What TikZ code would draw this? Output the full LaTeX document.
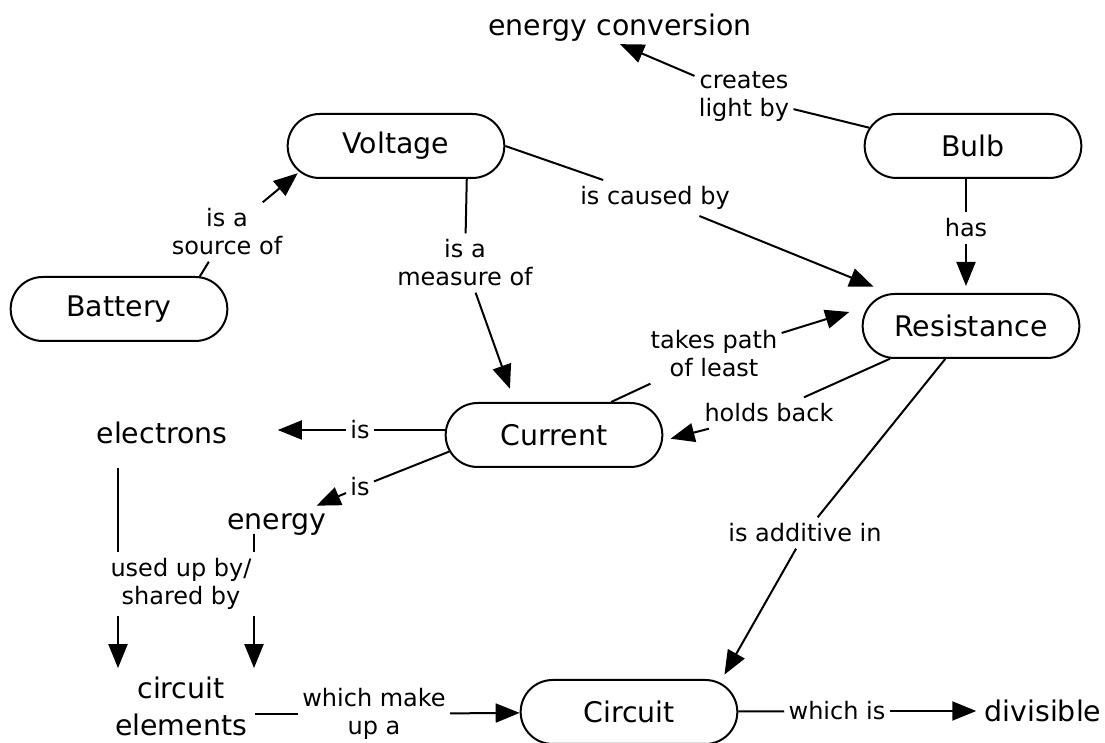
\documentclass[tikz,border=0pt]{standalone}
\usepackage{fontspec}
\setmainfont{DejaVu Sans}
\usetikzlibrary{shapes.misc,arrows.meta,positioning,calc}

\begin{document}
\begin{tikzpicture}[
            x=0.5pt, y=-0.5pt,
            concept/.style={rounded rectangle, draw, line width=1pt, minimum width=115pt, minimum height=32pt, font=\fontsize{14.2}{18.5}\selectfont},
            term/.style={align=center, inner sep=4pt, font=\fontsize{14.2}{18.5}\selectfont},
            link/.style={align=center, inner xsep=2pt, inner ysep=3pt, font=\fontsize{12}{14}\selectfont},
            line/.style={line width=1pt},
            arrow/.style={line width=1pt, -{Triangle[length=12pt, width=9.5pt]}}
        ]
            \useasboundingbox (0,0) rectangle (1105,743);

            % Nodes
            \node[concept] (voltage) at (396,146) {Voltage};
            \node[concept] (battery) at (119,309) {Battery};
            \node[concept] (bulb) at (973,146) {Bulb};
            \node[concept] (resistance) at (971,326) {Resistance};
            \node[concept] (current) at (554,435) {Current};
            \node[concept] (circuit) at (629,712) {Circuit};
            \node[term, inner sep=1pt] (conversion) at (620,28) {energy conversion};
            \node[term] (electrons) at (162,433) {electrons};
            \node[term] (energy) at (277,525) {energy};
            \node[term] (elements) at (181,706) {circuit\\elements};
            \node[term] (divisible) at (1043,711) {divisible};

            % Labels
            \node[link] (source) at (227,232) {is a\\source of};
            \node[link] (measure) at (465,263) {is a\\measure of};
            \node[link] (caused) at (655,198) {is caused by};
            \node[link] (creates) at (744,97) {creates\\light by};
            \node[link] (has) at (966,228) {has};
            \node[link] (path) at (714,354) {takes path\\of least};
            \node[link] (holds) at (769,413) {holds back};
            \node[link] (isel) at (360,430) {is};
            \node[link] (isen) at (360,487) {is};
            \node[link] (usedby) at (181,584) {used up by/\\shared by};
            \node[link] (additive) at (805,533) {is additive in};
            \node[link] (makeup) at (374,714) {which make\\up a};
            \node[link] (whichis) at (837,711) {which is};

            % Arrows
            \draw[line] (battery.22) -- (source);
            \draw[arrow, shorten >=1pt] (source) -- (voltage.195);
            \draw[line] (voltage.335) -- (measure);
            \draw[arrow, shorten >=7pt] (measure) -- (current.140);
            \draw[line] (voltage.east) -- (caused);
            \draw[arrow, shorten >=9pt] (caused) -- (resistance.158);
            \draw[line] (bulb.170) -- (creates);
            \draw[arrow] (creates) -- (conversion.south);
            \draw[line] (has |- bulb.south) -- (has);
            \draw[arrow, shorten >=3.5pt] (has) -- (has |- resistance.north);
            \draw[line] (current.30) -- (path);
            \draw[arrow, shorten >=10pt] (path) -- (resistance.169);
            \draw[line] (resistance.202) -- (holds);
            \draw[arrow, shorten >=4pt] (holds) -- (current.357);
            \draw[line] (current.west |- isel) -- (isel);
            \draw[arrow, shorten >=21pt] (isel) -- (isel -| electrons.east);
            \draw[line] (current.189) -- (isen);
            \draw[arrow] (isen) -- (energy.26);
            \coordinate (elx) at ([xshift=-22pt, yshift=-12pt]electrons.base);
            \coordinate (enx) at ([xshift=-11.5pt, yshift=-2pt]energy.base);
            \draw[line] (elx) -- (elx |- usedby.north);
            \draw[arrow] (elx |- usedby.south) -- (elx |- elements.north);
            \draw[line] (enx) -- (enx |- usedby.north);
            \draw[arrow] (enx |- usedby.south) -- (enx |- elements.north);
            \draw[line] (resistance.232) -- (additive);
            \draw[arrow, shorten >=4.5pt] (additive) -- (circuit.18);
            \draw[line] (elements.east |- makeup) -- (makeup);
            \draw[arrow] (makeup) -- (circuit);
            \draw[line] (circuit) -- (whichis);
            \draw[arrow] (whichis) -- (divisible);
\end{tikzpicture}
\end{document}
